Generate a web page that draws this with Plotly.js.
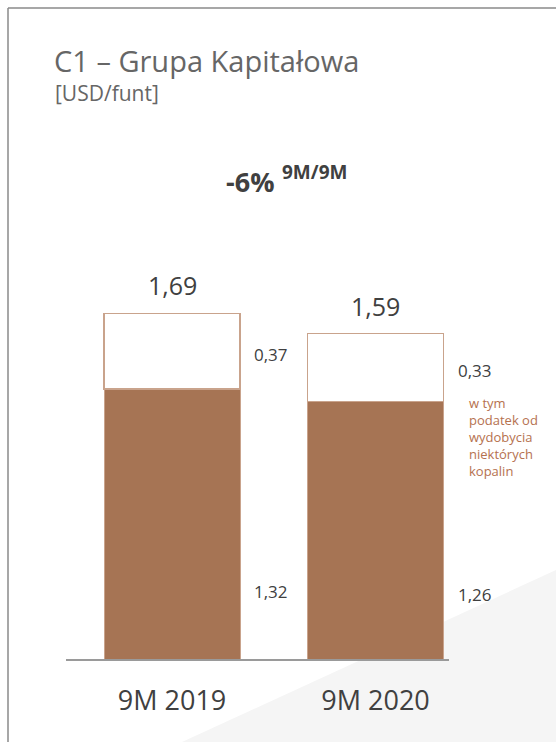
<!DOCTYPE html>
<html>
<head>
<meta charset="utf-8">
<script src="https://cdn.plot.ly/plotly-3.0.1.min.js"></script>
<style>html,body{margin:0;padding:0;background:#fff;}#chart{width:556px;height:742px;}</style>
</head>
<body>
<div id="chart"></div>
<script>
const categories = ['9M 2019', '9M 2020'];
const baseValues = [1.32, 1.26];
const taxValues = [0.37, 0.33];
const totalValues = [1.69, 1.59];
const changeLabel = '-6%';
const changePeriod = '9M/9M';
const noteLines = ['w tym', 'podatek od', 'wydobycia', 'niektórych', 'kopalin'];
const titleText = 'C1 – Grupa Kapitałowa';
const unitText = '[USD/funt]';

const W = 556, H = 742;
const M = {l: 66, r: 107, t: 250, b: 83};
const PW = W - M.l - M.r, PH = H - M.t - M.b;
const px = x => (x - M.l) / PW;
const py = y => (H - M.b - y) / PH;
const fmt = v => v.toFixed(2).replace('.', ',');
const FONT = 'Open Sans, Noto Sans, sans-serif';
const BROWN = '#a67454';
const OUTLINE = '#c9a38c';

const traces = [
  {type: 'bar', x: categories, y: baseValues, width: 0.668,
   marker: {color: BROWN, line: {color: OUTLINE, width: 1}}, hoverinfo: 'skip'},
  {type: 'bar', x: categories, y: taxValues, width: 0.668,
   marker: {color: '#ffffff', line: {color: OUTLINE, width: 1.3}}, hoverinfo: 'skip'}
];

const annotations = [];
categories.forEach((c, i) => {
  annotations.push({x: c, y: totalValues[i], xref: 'x', yref: 'y', text: fmt(totalValues[i]),
    showarrow: false, yanchor: 'bottom', yshift: 9, font: {family: FONT, size: 25, color: '#404040'}});
  annotations.push({x: c, y: baseValues[i] + taxValues[i] / 2, xref: 'x', yref: 'y', text: fmt(taxValues[i]),
    showarrow: false, xshift: 99, yshift: -3, font: {family: FONT, size: 17, color: '#404040'}});
  annotations.push({x: c, y: baseValues[i] * 0.25, xref: 'x', yref: 'y', text: fmt(baseValues[i]),
    showarrow: false, xshift: 99, font: {family: FONT, size: 17, color: '#404040'}});
});
annotations.push({xref: 'paper', yref: 'paper', x: px(467), y: py(392), xanchor: 'left', yanchor: 'top',
  align: 'left', showarrow: false, text: noteLines.join('<br>'),
  font: {family: FONT, size: 13, color: '#b5714f'}});
annotations.push({xref: 'paper', yref: 'paper', x: px(53), y: py(93), xanchor: 'left', yanchor: 'middle',
  showarrow: false, text: unitText, font: {family: FONT, size: 21, color: '#666666'}});
annotations.push({xref: 'paper', yref: 'paper', x: px(276), y: py(182), xanchor: 'right', yanchor: 'middle',
  showarrow: false, text: '<b>' + changeLabel + '</b>', font: {family: FONT, size: 27, color: '#404040'}});
annotations.push({xref: 'paper', yref: 'paper', x: px(280), y: py(172), xanchor: 'left', yanchor: 'middle',
  showarrow: false, text: '<b>' + changePeriod + '</b>', font: {family: FONT, size: 19, color: '#404040'}});

const shapes = [
  {type: 'path', xref: 'paper', yref: 'paper', layer: 'below',
   path: `M ${px(182)} ${py(742)} L ${px(556)} ${py(570)} L ${px(556)} ${py(742)} Z`,
   fillcolor: '#f5f5f5', line: {width: 0}},
  {type: 'line', xref: 'paper', yref: 'paper', x0: px(8), x1: px(8), y0: py(8), y1: py(742),
   line: {color: '#8a8a8a', width: 1.5}},
  {type: 'line', xref: 'paper', yref: 'paper', x0: px(8), x1: px(556), y0: py(8), y1: py(8),
   line: {color: '#8a8a8a', width: 1.5}}
];

const layout = {
  width: W, height: H, margin: M,
  paper_bgcolor: '#ffffff', plot_bgcolor: 'rgba(0,0,0,0)',
  barmode: 'stack', showlegend: false,
  title: {text: titleText, xref: 'container', yref: 'container', x: 54 / W, xanchor: 'left',
    y: 1 - 62 / H, yanchor: 'middle', font: {family: FONT, size: 29, color: '#666666'}},
  xaxis: {type: 'category', range: [-0.521, 1.361], showgrid: false, zeroline: false,
    showline: true, linecolor: '#9a9a9a', linewidth: 1.5, ticks: '', ticklabelstandoff: 17,
    tickfont: {family: FONT, size: 27, color: '#404040'}, fixedrange: true},
  yaxis: {range: [0, PH / 204.5], visible: false, showgrid: false, zeroline: false, fixedrange: true},
  annotations: annotations, shapes: shapes
};

Plotly.newPlot('chart', traces, layout, {displayModeBar: false, staticPlot: true});
</script>
</body>
</html>
